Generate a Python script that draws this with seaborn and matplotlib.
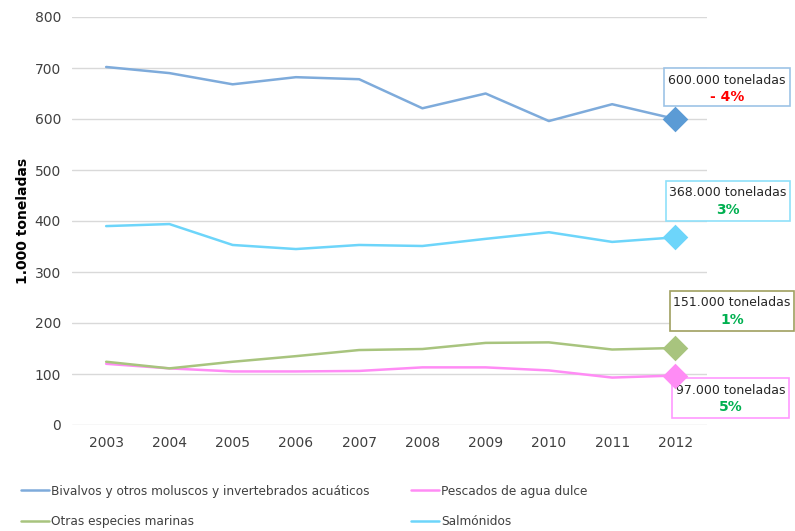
import matplotlib
matplotlib.use("Agg")
import matplotlib.pyplot as plt
import seaborn as sns
import pandas as pd
from matplotlib.patches import Rectangle
from matplotlib.lines import Line2D

years = [2003, 2004, 2005, 2006, 2007, 2008, 2009, 2010, 2011, 2012]
bivalvos = [702, 690, 668, 682, 678, 621, 650, 596, 629, 600]
pescados = [120, 111, 105, 105, 106, 113, 113, 107, 93, 97]
otras = [124, 111, 124, 135, 147, 149, 161, 162, 148, 151]
salmonidos = [390, 394, 353, 345, 353, 351, 365, 378, 359, 368]

series_names = ["Bivalvos y otros moluscos y invertebrados acuáticos",
                "Pescados de agua dulce",
                "Otras especies marinas",
                "Salmónidos"]
series_values = [bivalvos, pescados, otras, salmonidos]
colors = ["#7EABDB", "#FF8CF5", "#A8C47E", "#6DD5FA"]
marker_colors = ["#5B9BD5", "#FF8CF5", "#A8C47E", "#6DD5FA"]
box_labels = ["600.000 toneladas", "97.000 toneladas", "151.000 toneladas", "368.000 toneladas"]
pct_labels = ["- 4%", "5%", "1%", "3%"]
pct_colors = ["#FF0000", "#00B050", "#00B050", "#00B050"]
yticks = [0, 100, 200, 300, 400, 500, 600, 700, 800]

rows = []
for name, vals in zip(series_names, series_values):
    for y, v in zip(years, vals):
        rows.append({"year": y, "value": v, "serie": name})
df = pd.DataFrame(rows)

sns.set_theme(style="white")
plt.rcParams['font.family'] = ['DejaVu Sans']

W, H = 795, 531
fig = plt.figure(figsize=(W / 100, H / 100), dpi=100)
ax = fig.add_axes([72 / W, 1 - 425 / H, (707 - 72) / W, (425 - 17) / H])

sns.lineplot(data=df, x="year", y="value", hue="serie", hue_order=series_names,
             palette=colors, linewidth=1.8, ax=ax, legend=False)

last = df[df["year"] == years[-1]]
for name, mc in zip(series_names, marker_colors):
    sub = last[last["serie"] == name]
    ax.scatter(sub["year"], sub["value"], marker="D", s=170, color=mc, zorder=8,
               linewidths=0, clip_on=False)

ax.set_xlim(2002.46, 2012.5)
ax.set_ylim(0, 800)
ax.set_yticks(yticks)
ax.set_xticks(years)
ax.set_xticklabels([str(y) for y in years])
ax.grid(axis="y", color="#D9D9D9", linewidth=1)
ax.set_axisbelow(True)
for s in ax.spines.values():
    s.set_visible(False)
ax.tick_params(axis="both", labelsize=10, colors="#404040", length=0, pad=8)
ax.set_xlabel("")
ax.set_ylabel("1.000 toneladas", fontsize=10, fontweight="bold", color="black", labelpad=3)

# annotation boxes (pixel positions: x0, y0, x1, y1 with top-left origin)
boxes = [(664, 68, 790, 106), (672, 378, 789, 418), (670, 291, 794, 331), (666, 181, 790, 221)]
edge_colors = ["#9DC3E6", "#FF99FF", "#A0A060", "#8FE0FA"]
for (x0, y0, x1, y1), ec, lab, pct, pc in zip(boxes, edge_colors, box_labels, pct_labels, pct_colors):
    ax.add_patch(Rectangle((x0 / W, 1 - y1 / H), (x1 - x0) / W, (y1 - y0) / H,
                           transform=fig.transFigure, facecolor="white", clip_on=False,
                           edgecolor=ec, linewidth=1.2, zorder=6))
    cx = (x0 + x1) / 2
    ax.text(cx / W, 1 - (y0 + 12) / H, lab, ha="center", va="center", transform=fig.transFigure,
            fontsize=9, color="#262626", zorder=7, clip_on=False)
    ax.text(cx / W, 1 - (y0 + 29) / H, pct, ha="center", va="center", transform=fig.transFigure,
            fontsize=10, fontweight="bold", color=pc, zorder=7, clip_on=False)

# legend: two columns placed separately
handles = [Line2D([0], [0], color=c, linewidth=1.8) for c in colors]
leg_prop = {"family": "DejaVu Sans", "stretch": "condensed", "size": 9.7}
col1 = fig.legend([handles[0], handles[2]], [series_names[0], series_names[2]],
                  loc="lower left", bbox_to_anchor=(9 / W, -0.018), frameon=False,
                  handlelength=2.1, handletextpad=0.1, labelspacing=1.3, prop=leg_prop)
col2 = fig.legend([handles[1], handles[3]], [series_names[1], series_names[3]],
                  loc="lower left", bbox_to_anchor=(399 / W, -0.018), frameon=False,
                  handlelength=2.1, handletextpad=0.1, labelspacing=1.3, prop=leg_prop)
for lg in (col1, col2):
    for t in lg.get_texts():
        t.set_color("#404040")

fig.savefig("out.png", dpi=100)
